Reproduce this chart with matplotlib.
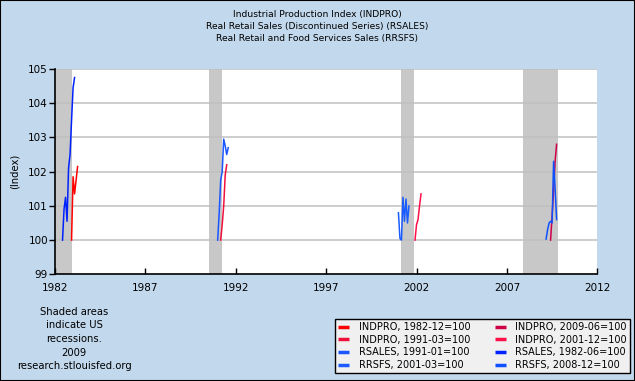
import matplotlib
matplotlib.use("Agg")
import matplotlib.pyplot as plt
from matplotlib.lines import Line2D
from matplotlib.patches import Rectangle

# ---- data (monthly series, start year, start month, values) ----
indpro_1982_start = (1982, 12)
indpro_1982 = [100.0, 101.85, 101.35, 101.75, 102.15]

rsales_1982_start = (1982, 6)
rsales_1982 = [100.0, 100.9, 101.25, 100.55, 102.1, 102.5, 103.5, 104.45, 104.75]

indpro_1991_start = (1991, 3)
indpro_1991 = [100.0, 100.45, 101.0, 101.9, 102.2]

rsales_1991_start = (1991, 1)
rsales_1991 = [100.0, 100.8, 101.75, 102.0, 102.95, 102.75, 102.5, 102.7]

rrsfs_2001_start = (2001, 1)
rrsfs_2001 = [100.8, 100.05, 100.0, 101.25, 100.55, 101.2, 100.5, 101.0]

indpro_2001_start = (2001, 12)
indpro_2001 = [100.0, 100.45, 100.6, 101.0, 101.35]

rrsfs_2008_start = (2009, 3)
rrsfs_2008 = [100.03, 100.3, 100.5, 100.55, 100.5, 102.3, 101.5, 100.6]

indpro_2009_start = (2009, 6)
indpro_2009 = [100.0, 100.7, 101.45, 102.3, 102.8]

recessions = [(1981.5, 1982.917), (1990.5, 1991.25), (2001.167, 2001.875), (2007.917, 2009.83)]

title_lines = ["Industrial Production Index (INDPRO)",
               "Real Retail Sales (Discontinued Series) (RSALES)",
               "Real Retail and Food Services Sales (RRSFS)"]
x_ticks = [1982, 1987, 1992, 1997, 2002, 2007, 2012]
y_ticks = [99, 100, 101, 102, 103, 104, 105]


def months(start, vals):
    y, m = start
    return [y + (m - 1 + i) / 12.0 for i in range(len(vals))]


BG = '#c2d8ec'
fig = plt.figure(figsize=(6.35, 3.81), dpi=100, facecolor=BG)
ax = fig.add_axes([0.0866, 0.28, 0.8540, 0.539])
ax.set_facecolor('white')

for a, b in recessions:
    ax.axvspan(a, b, color='#c8c8c8', lw=0, zorder=0)

for yv in y_ticks[1:]:
    ax.axhline(yv, color='#c0c0c0', lw=1.1, zorder=1)

series = [
    ("INDPRO, 1982-12=100", indpro_1982_start, indpro_1982, '#ff0000'),
    ("INDPRO, 1991-03=100", indpro_1991_start, indpro_1991, '#f0103c'),
    ("RSALES, 1991-01=100", rsales_1991_start, rsales_1991, '#1a55ff'),
    ("RRSFS, 2001-03=100", rrsfs_2001_start, rrsfs_2001, '#1a5cff'),
    ("INDPRO, 2009-06=100", indpro_2009_start, indpro_2009, '#d00048'),
    ("INDPRO, 2001-12=100", indpro_2001_start, indpro_2001, '#ff1048'),
    ("RSALES, 1982-06=100", rsales_1982_start, rsales_1982, '#0022ff'),
    ("RRSFS, 2008-12=100", rrsfs_2008_start, rrsfs_2008, '#0f50ff'),
]

handles = []
for name, st, vals, col in series:
    ax.plot(months(st, vals), vals, color=col, lw=1.1, zorder=3)
    handles.append(Line2D([], [], color=col, lw=2.5, solid_capstyle='butt'))

ax.set_xlim(1982, 2012)
ax.set_ylim(99, 105)
ax.set_xticks(x_ticks)
ax.set_yticks(y_ticks)
ax.tick_params(axis='x', direction='in', length=4.5, width=1, pad=6, labelsize=7.5)
ax.tick_params(axis='y', direction='out', length=4, width=1, pad=1, labelsize=7.5)
for s in ['top', 'right']:
    ax.spines[s].set_visible(False)
for s in ['left', 'bottom']:
    ax.spines[s].set_linewidth(1.2)
ax.set_ylabel("(Index)", fontsize=7.2, labelpad=6)

for i, t in enumerate(title_lines):
    fig.text(0.5, 1 - (15 + 12 * i) / 381, t, ha='center', va='center', fontsize=6.6)

fig.text(74 / 635, 1 - 339 / 381,
         "Shaded areas\nindicate US\nrecessions.\n2009\nresearch.stlouisfed.org",
         ha='center', va='center', fontsize=7.2, linespacing=1.45)

leg = fig.legend(handles, [s[0] for s in series], ncol=2, loc='lower left',
                 bbox_to_anchor=(0.528, 0.021, 0.464, 0.134), mode='expand',
                 fontsize=7, frameon=True, fancybox=False, handlelength=1.1,
                 handletextpad=1.0, labelspacing=0.28, borderpad=0.3,
                 columnspacing=1.0, borderaxespad=0)
leg.get_frame().set_facecolor('#f0f0f0')
leg.get_frame().set_edgecolor('black')
leg.get_frame().set_linewidth(1.0)
leg.get_frame().set_alpha(1)

fig.patches.append(Rectangle((0, 0), 1, 1, transform=fig.transFigure, fill=False,
                             edgecolor='black', lw=1.5))

fig.savefig("out.png", dpi=100, facecolor=BG)
